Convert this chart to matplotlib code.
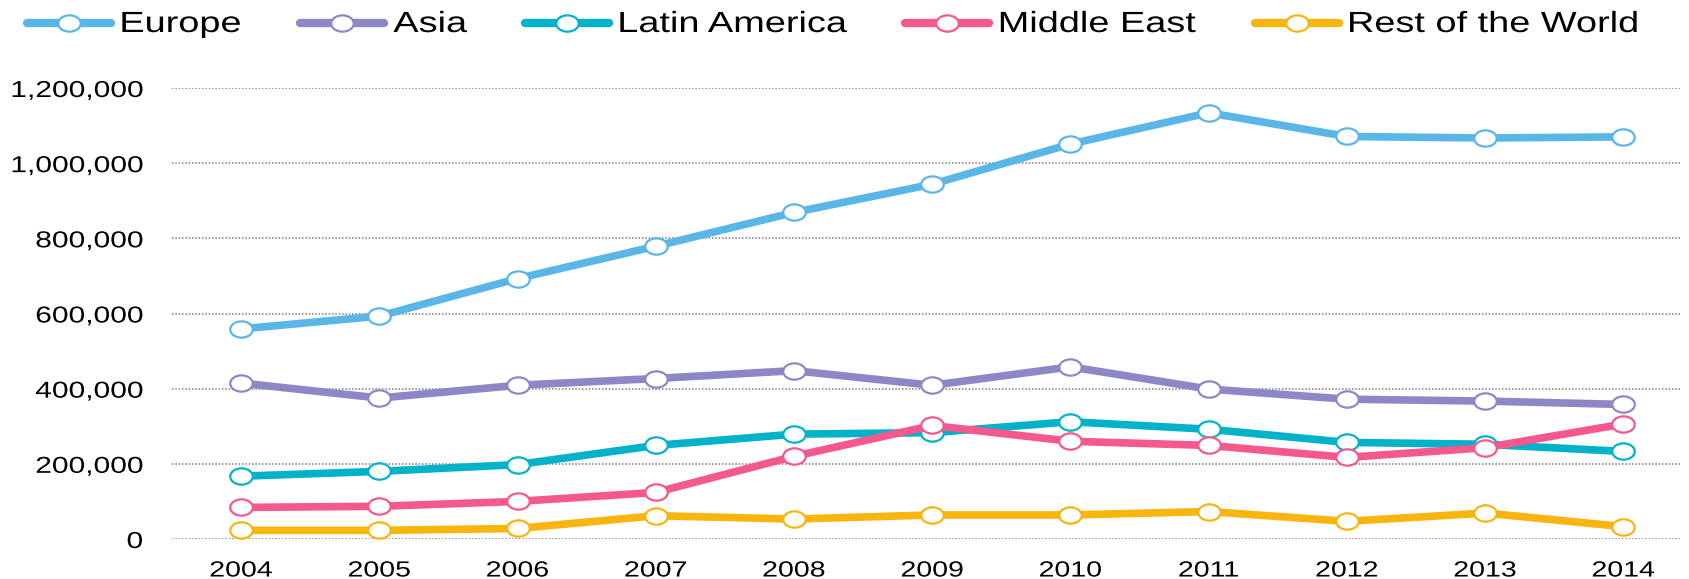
import matplotlib
matplotlib.use("Agg")
import matplotlib.pyplot as plt
from matplotlib.lines import Line2D
from matplotlib.path import Path
from matplotlib.patheffects import AbstractPathEffect
from matplotlib.transforms import Affine2D
from matplotlib.ticker import FixedLocator, FuncFormatter

# ---- data -------------------------------------------------------------
years = [2004, 2005, 2006, 2007, 2008, 2009, 2010, 2011, 2012, 2013, 2014]
regions = ["Europe", "Asia", "Latin America", "Middle East", "Rest of the World"]

europe = [559000, 593000, 693000, 779000, 869000, 944000, 1051000, 1134000, 1071000, 1067000, 1070000]
asia = [415000, 375000, 409000, 427000, 448000, 409000, 458000, 399000, 372000, 367000, 358000]
latin_america = [167000, 180000, 198000, 249000, 279000, 283000, 312000, 292000, 257000, 252000, 233000]
middle_east = [84000, 87000, 100000, 124000, 220000, 302000, 260000, 249000, 217000, 243000, 306000]
rest_of_world = [23000, 23000, 28000, 62000, 53000, 64000, 64000, 73000, 47000, 69000, 33000]

series = [europe, asia, latin_america, middle_east, rest_of_world]
colors = ["#5AB6E6", "#8C88C6", "#00B3C8", "#F4588E", "#F7B50E"]
y_ticks = [0, 200000, 400000, 600000, 800000, 1000000, 1200000]

# ---- style ------------------------------------------------------------
W, H = 1690, 579
FONT = "Liberation Sans"
TEXT_STRETCH = 1.3
LINE_W = 5.5
MARKER_W = 16.2


class Widen(AbstractPathEffect):
    """Draw text glyphs stretched horizontally about an anchor."""

    def __init__(self, sx, anchor="center"):
        super().__init__()
        self.sx = sx
        self.anchor = anchor

    def draw_path(self, renderer, gc, tpath, affine, rgbFace=None):
        ext = tpath.get_extents()
        if self.anchor == "left":
            x0 = ext.x0
        elif self.anchor == "right":
            x0 = ext.x1
        else:
            x0 = 0.5 * (ext.x0 + ext.x1)
        t = Affine2D().translate(-x0, 0).scale(self.sx, 1).translate(x0, 0) + affine
        renderer.draw_path(gc, tpath, t, rgbFace)


# oval ring marker, wider than tall
circ = Path.unit_circle()
oval = Path(Affine2D().scale(1.38, 1.0).transform(circ.vertices), circ.codes)

fig = plt.figure(figsize=(W / 100, H / 100), dpi=100)
fig.patch.set_facecolor("white")

ax_left, ax_right, ax_top, ax_bottom = 172, 1680, 88, 539
ax = fig.add_axes([ax_left / W, 1 - ax_bottom / H,
                   (ax_right - ax_left) / W, (ax_bottom - ax_top) / H])

for vals, col in zip(series, colors):
    ax.plot(years, vals, color=col, lw=LINE_W, solid_joinstyle="round",
            solid_capstyle="round", marker=oval, markersize=MARKER_W,
            markerfacecolor="white", markeredgecolor=col, markeredgewidth=1.6,
            clip_on=False, zorder=3)

ax.set_xlim(years[0] - 0.5, years[-1] + 0.41)
ax.set_ylim(y_ticks[0], y_ticks[-1])
ax.yaxis.set_major_locator(FixedLocator(y_ticks))
ax.yaxis.set_major_formatter(FuncFormatter(lambda v, p: f"{int(v):,}"))
ax.xaxis.set_major_locator(FixedLocator(years))
ax.xaxis.set_major_formatter(FuncFormatter(lambda v, p: f"{int(round(v))}"))

for s in ax.spines.values():
    s.set_visible(False)
ax.set_axisbelow(True)
ax.grid(axis="y", color="#858585", lw=1.2, linestyle=(0, (0.9, 1.1)))
ax.grid(axis="x", visible=False)
ax.tick_params(axis="both", length=0, labelcolor="#000000")
ax.tick_params(axis="y", pad=21)
ax.tick_params(axis="x", pad=15.5)

for lbl in ax.get_yticklabels():
    lbl.set_fontfamily(FONT)
    lbl.set_fontsize(16.6)
    lbl.set_path_effects([Widen(TEXT_STRETCH, "right")])
for lbl in ax.get_xticklabels():
    lbl.set_fontfamily(FONT)
    lbl.set_fontsize(15.8)
    lbl.set_path_effects([Widen(TEXT_STRETCH, "center")])

# ---- legend row across the top ---------------------------------------
fig.canvas.draw()
renderer = fig.canvas.get_renderer()

handle_len = 92
text_pad = 5
col_gap = 54
leg_line_y = 1 - 22.5 / H
leg_text_y = 1 - 32 / H

x = 23
for name, col in zip(regions, colors):
    x0 = x + 4
    x1 = x + handle_len - 4
    fig.add_artist(Line2D([x0 / W, x1 / W], [leg_line_y, leg_line_y],
                          transform=fig.transFigure, color=col, lw=6.0,
                          solid_capstyle="round"))
    fig.add_artist(Line2D([(x + handle_len / 2) / W], [leg_line_y],
                          transform=fig.transFigure, marker=oval,
                          markersize=MARKER_W, markerfacecolor="white",
                          markeredgecolor=col, markeredgewidth=1.6,
                          linestyle="none"))
    tx = x + handle_len + text_pad
    t = fig.text(tx / W, leg_text_y, name, fontsize=21, family=FONT,
                 color="#000000", ha="left", va="baseline")
    t.set_path_effects([Widen(TEXT_STRETCH, "left")])
    w = t.get_window_extent(renderer).width * TEXT_STRETCH
    x = tx + w + col_gap

fig.savefig("out.png", dpi=100, facecolor="white")
